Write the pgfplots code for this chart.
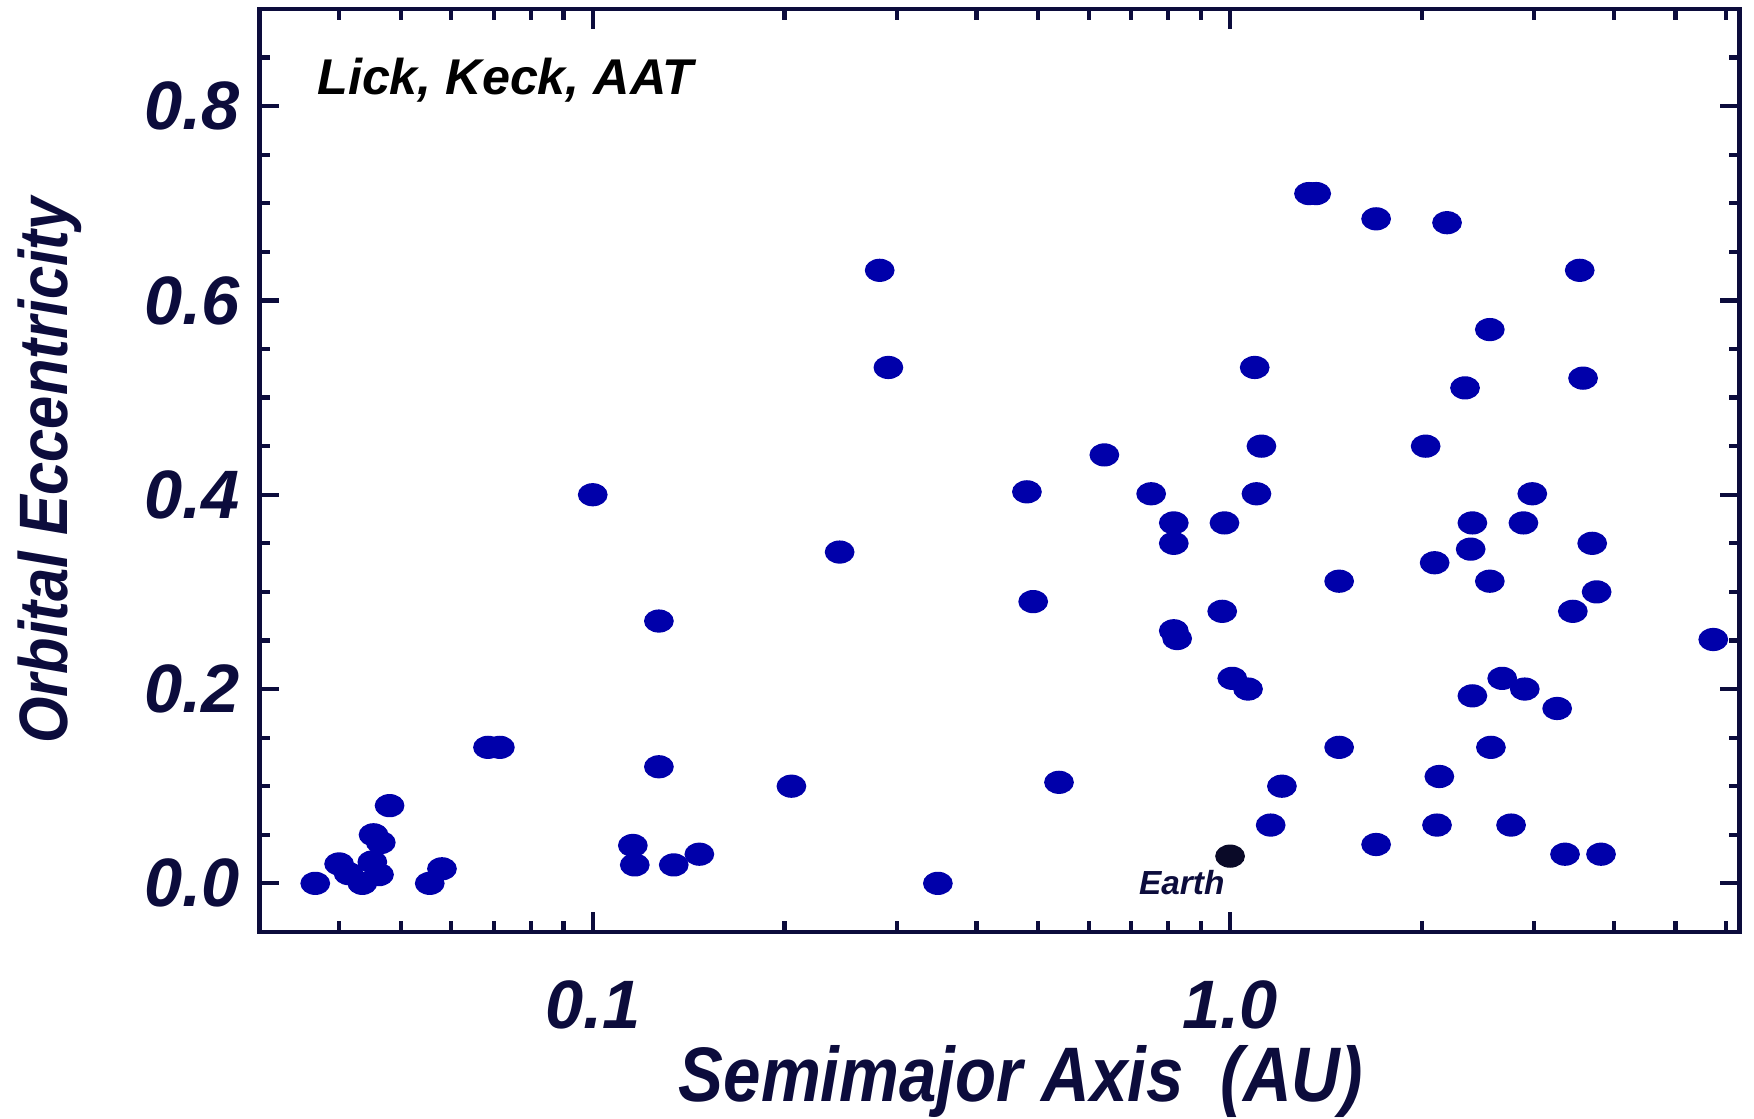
\documentclass[border=0pt]{standalone}
\usepackage{fontspec}
\setmainfont{Liberation Sans}
\newfontfamily\condfont[FakeStretch=0.87]{Liberation Sans}
\usepackage{pgfplots}
\pgfplotsset{compat=1.18}
\usetikzlibrary{calc}

\definecolor{navy}{RGB}{12,12,60}
\definecolor{dotblue}{RGB}{0,0,170}
\definecolor{earthc}{RGB}{10,10,40}

\pgfplotstableread{
a e
0.0367 0.000
0.0400 0.020
0.0414 0.010
0.0435 0.000
0.0451 0.022
0.0462 0.009
0.0453 0.050
0.0465 0.042
0.0480 0.080
0.0555 0.000
0.0580 0.015
0.0685 0.140
0.0715 0.140
0.1000 0.400
0.1156 0.039
0.1164 0.019
0.1270 0.120
0.1270 0.270
0.1340 0.019
0.1470 0.030
0.2050 0.100
0.2440 0.341
0.2820 0.631
0.2910 0.531
0.3480 0.000
0.4800 0.403
0.4910 0.290
0.5390 0.104
0.6350 0.441
0.7520 0.401
0.8160 0.371
0.8160 0.350
0.8160 0.260
0.8260 0.252
0.9800 0.371
0.9720 0.280
1.0080 0.211
1.0670 0.200
1.0930 0.531
1.1200 0.450
1.1000 0.401
1.1580 0.060
1.2060 0.100
1.3300 0.710
1.3650 0.710
1.4830 0.311
1.4830 0.140
1.6950 0.684
1.6950 0.040
2.0270 0.450
2.0940 0.330
2.1300 0.110
2.1120 0.060
2.1900 0.680
2.3370 0.510
2.3850 0.344
2.4000 0.371
2.4000 0.193
2.5560 0.570
2.5560 0.311
2.5660 0.140
2.6730 0.211
2.7600 0.060
2.8860 0.371
2.9000 0.200
2.9800 0.401
3.2600 0.180
3.3540 0.030
3.4500 0.280
3.5370 0.631
3.5800 0.520
3.7000 0.350
3.7600 0.300
3.8200 0.030
5.7300 0.251
}\planets

\pgfplotstableread{
a e
1.0 0.028
}\earth

\begin{document}
\begin{tikzpicture}
\begin{axis}[
    xmode=log,
    scale only axis,
    width=148mm, height=92.3mm,
    xmin=0.03, xmax=6.3,
    ymin=-0.05, ymax=0.9,
    axis line style={navy, line width=1.3pt},
    every tick/.style={navy, line width=1.2pt},
    tick align=inside,
    xtick pos=both, ytick pos=both,
    major tick length=2mm,
    minor tick length=1.1mm,
    xtick={0.1,1},
    xticklabels={0.1,1.0},
    minor xtick={0.04,0.05,0.06,0.07,0.08,0.09,0.2,0.3,0.4,0.5,0.6,0.7,0.8,0.9,2,3,4,5,6},
    ytick={0,0.2,0.4,0.6,0.8},
    yticklabels={0.0,0.2,0.4,0.6,0.8},
    minor ytick={0.05,0.1,0.15,0.25,0.3,0.35,0.45,0.5,0.55,0.65,0.7,0.75,0.85},
    ticklabel style={font=\fontsize{19.5}{21}\selectfont\bfseries\itshape, text=navy, inner sep=0pt},
    yticklabel style={anchor=east, xshift=-1.9mm},
    xticklabel style={anchor=north, yshift=-4.8mm},
    xlabel={Semimajor Axis\ \ (AU)},
    ylabel={Orbital Eccentricity},
    xlabel style={font=\condfont\fontsize{22}{24}\selectfont\bfseries\itshape, text=navy,
        at={(axis description cs:0.5145,-0.184)}, anchor=base},
    ylabel style={font=\condfont\fontsize{19.5}{21}\selectfont\bfseries\itshape, text=navy,
        at={(axis description cs:-0.1416,0.5)}, anchor=center},
    clip=false,
]
\coordinate (bl) at (rel axis cs:0,0);
\coordinate (tr) at (rel axis cs:1,1);
\addplot[only marks, mark=*, mark size=3.1pt, color=dotblue,
    mark options={xscale=1.3, fill=dotblue, draw=dotblue}] table[x=a, y=e] {\planets};
\addplot[only marks, mark=*, mark size=3.1pt, color=earthc,
    mark options={xscale=1.3, fill=earthc, draw=earthc}] table[x=a, y=e] {\earth};
\node[font=\fontsize{9.5}{10}\selectfont\bfseries\itshape, text=navy] at (axis cs:0.84,0.001) {Earth};
\node[font=\fontsize{14.3}{16}\selectfont\bfseries\itshape, text=black, anchor=west, inner sep=0pt]
    at (rel axis cs:0.0386,0.9225) {Lick, Keck, AAT};
\end{axis}
\pgfresetboundingbox
\path ($(bl)+(-25.95mm,-18.7mm)$) rectangle ($(tr)+(1.45mm,0.9mm)$);
\end{tikzpicture}
\end{document}
